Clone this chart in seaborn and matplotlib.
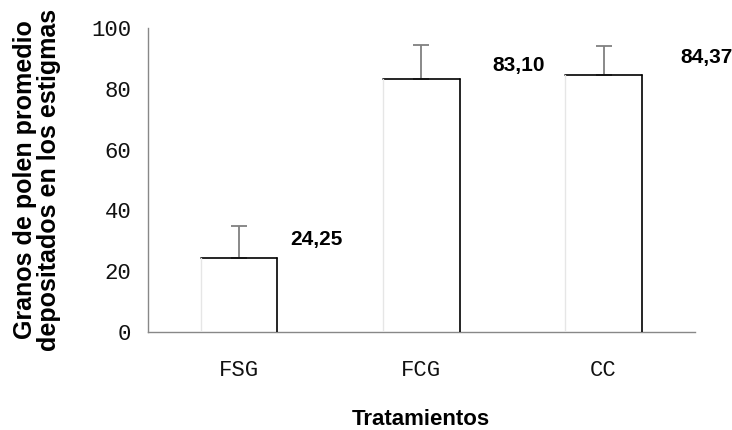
import pandas as pd
import matplotlib
matplotlib.use("Agg")
import matplotlib.pyplot as plt
import seaborn as sns

# Data
tratamientos = ["FSG", "FCG", "CC"]
promedio = [24.25, 83.10, 84.37]
error_sup = [10.6, 11.4, 9.7]
etiquetas = ["24,25", "83,10", "84,37"]

df = pd.DataFrame({"trat": tratamientos, "granos": promedio})

sns.set_style("white")
plt.rcParams['font.family'] = ['Liberation Sans', 'DejaVu Sans']
plt.rcParams['text.color'] = 'black'
plt.rcParams['axes.labelcolor'] = 'black'

fig = plt.figure(figsize=(7.32, 4.30), dpi=100)
ax = fig.add_axes([0.202, 0.228, 0.747, 0.707])

sns.barplot(data=df, x="trat", y="granos", color="white", width=0.42,
            edgecolor="none", errorbar=None, ax=ax)

# bar outline: dark top/right, faint left edge
for p in ax.patches:
    x0, y0 = p.get_x(), p.get_y()
    x1, y1 = x0 + p.get_width(), y0 + p.get_height()
    ax.plot([x0, x1], [y1, y1], color="black", lw=1.2, zorder=3)
    ax.plot([x1, x1], [y0, y1], color="black", lw=1.2, zorder=3)
    ax.plot([x0, x0], [y0, y1], color="#e6e6e6", lw=1.0, zorder=3)

# upper-only error bars
ax.errorbar(range(len(tratamientos)), promedio,
            yerr=[[0] * len(error_sup), error_sup], fmt="none",
            ecolor="#808080", elinewidth=1.3, capsize=5.5, capthick=1.3, zorder=2)

# value labels to the right of each bar
dx = [0.28, 0.39, 0.42]
dy = [6.0, 4.4, 6.0]
for i, txt in enumerate(etiquetas):
    ax.text(i + dx[i], promedio[i] + dy[i], txt, fontsize=15, fontweight="bold",
            color="black", ha="left", va="center")

ax.set_ylim(0, 100)
ax.set_xlim(-0.5, 2.5)
ax.set_yticks([0, 20, 40, 60, 80, 100])
ax.set_yticklabels(["0", "20", "40", "60", "80", "100"],
                   family="Liberation Mono", fontsize=16)

# category boundaries as ticks, names centered between them
ax.set_xticks([-0.5, 0.5, 1.5, 2.5])
ax.set_xticklabels([])
ax.set_xticks(range(len(tratamientos)), minor=True)
ax.set_xticklabels(tratamientos, minor=True, family="Liberation Mono", fontsize=16)
ax.tick_params(axis="x", which="major", direction="out", length=6, color="#888888", width=1)
ax.tick_params(axis="x", which="minor", length=0, pad=20, labelcolor="#111111")
ax.tick_params(axis="y", direction="out", length=6, color="#888888", width=1, pad=6,
               labelcolor="#111111")

for s in ["top", "right"]:
    ax.spines[s].set_visible(False)
for s in ["left", "bottom"]:
    ax.spines[s].set_color("#888888")
    ax.spines[s].set_linewidth(1)

ax.set_xlabel("Tratamientos", fontsize=16, fontweight="bold")
ax.xaxis.set_label_coords(0.5, -0.255)
ax.set_ylabel("Granos de polen promedio\ndepositados en los estigmas",
              fontsize=18, fontweight="bold", linespacing=1.0)
ax.yaxis.set_label_coords(-0.158, 0.5)

fig.savefig("out.png", dpi=100)
